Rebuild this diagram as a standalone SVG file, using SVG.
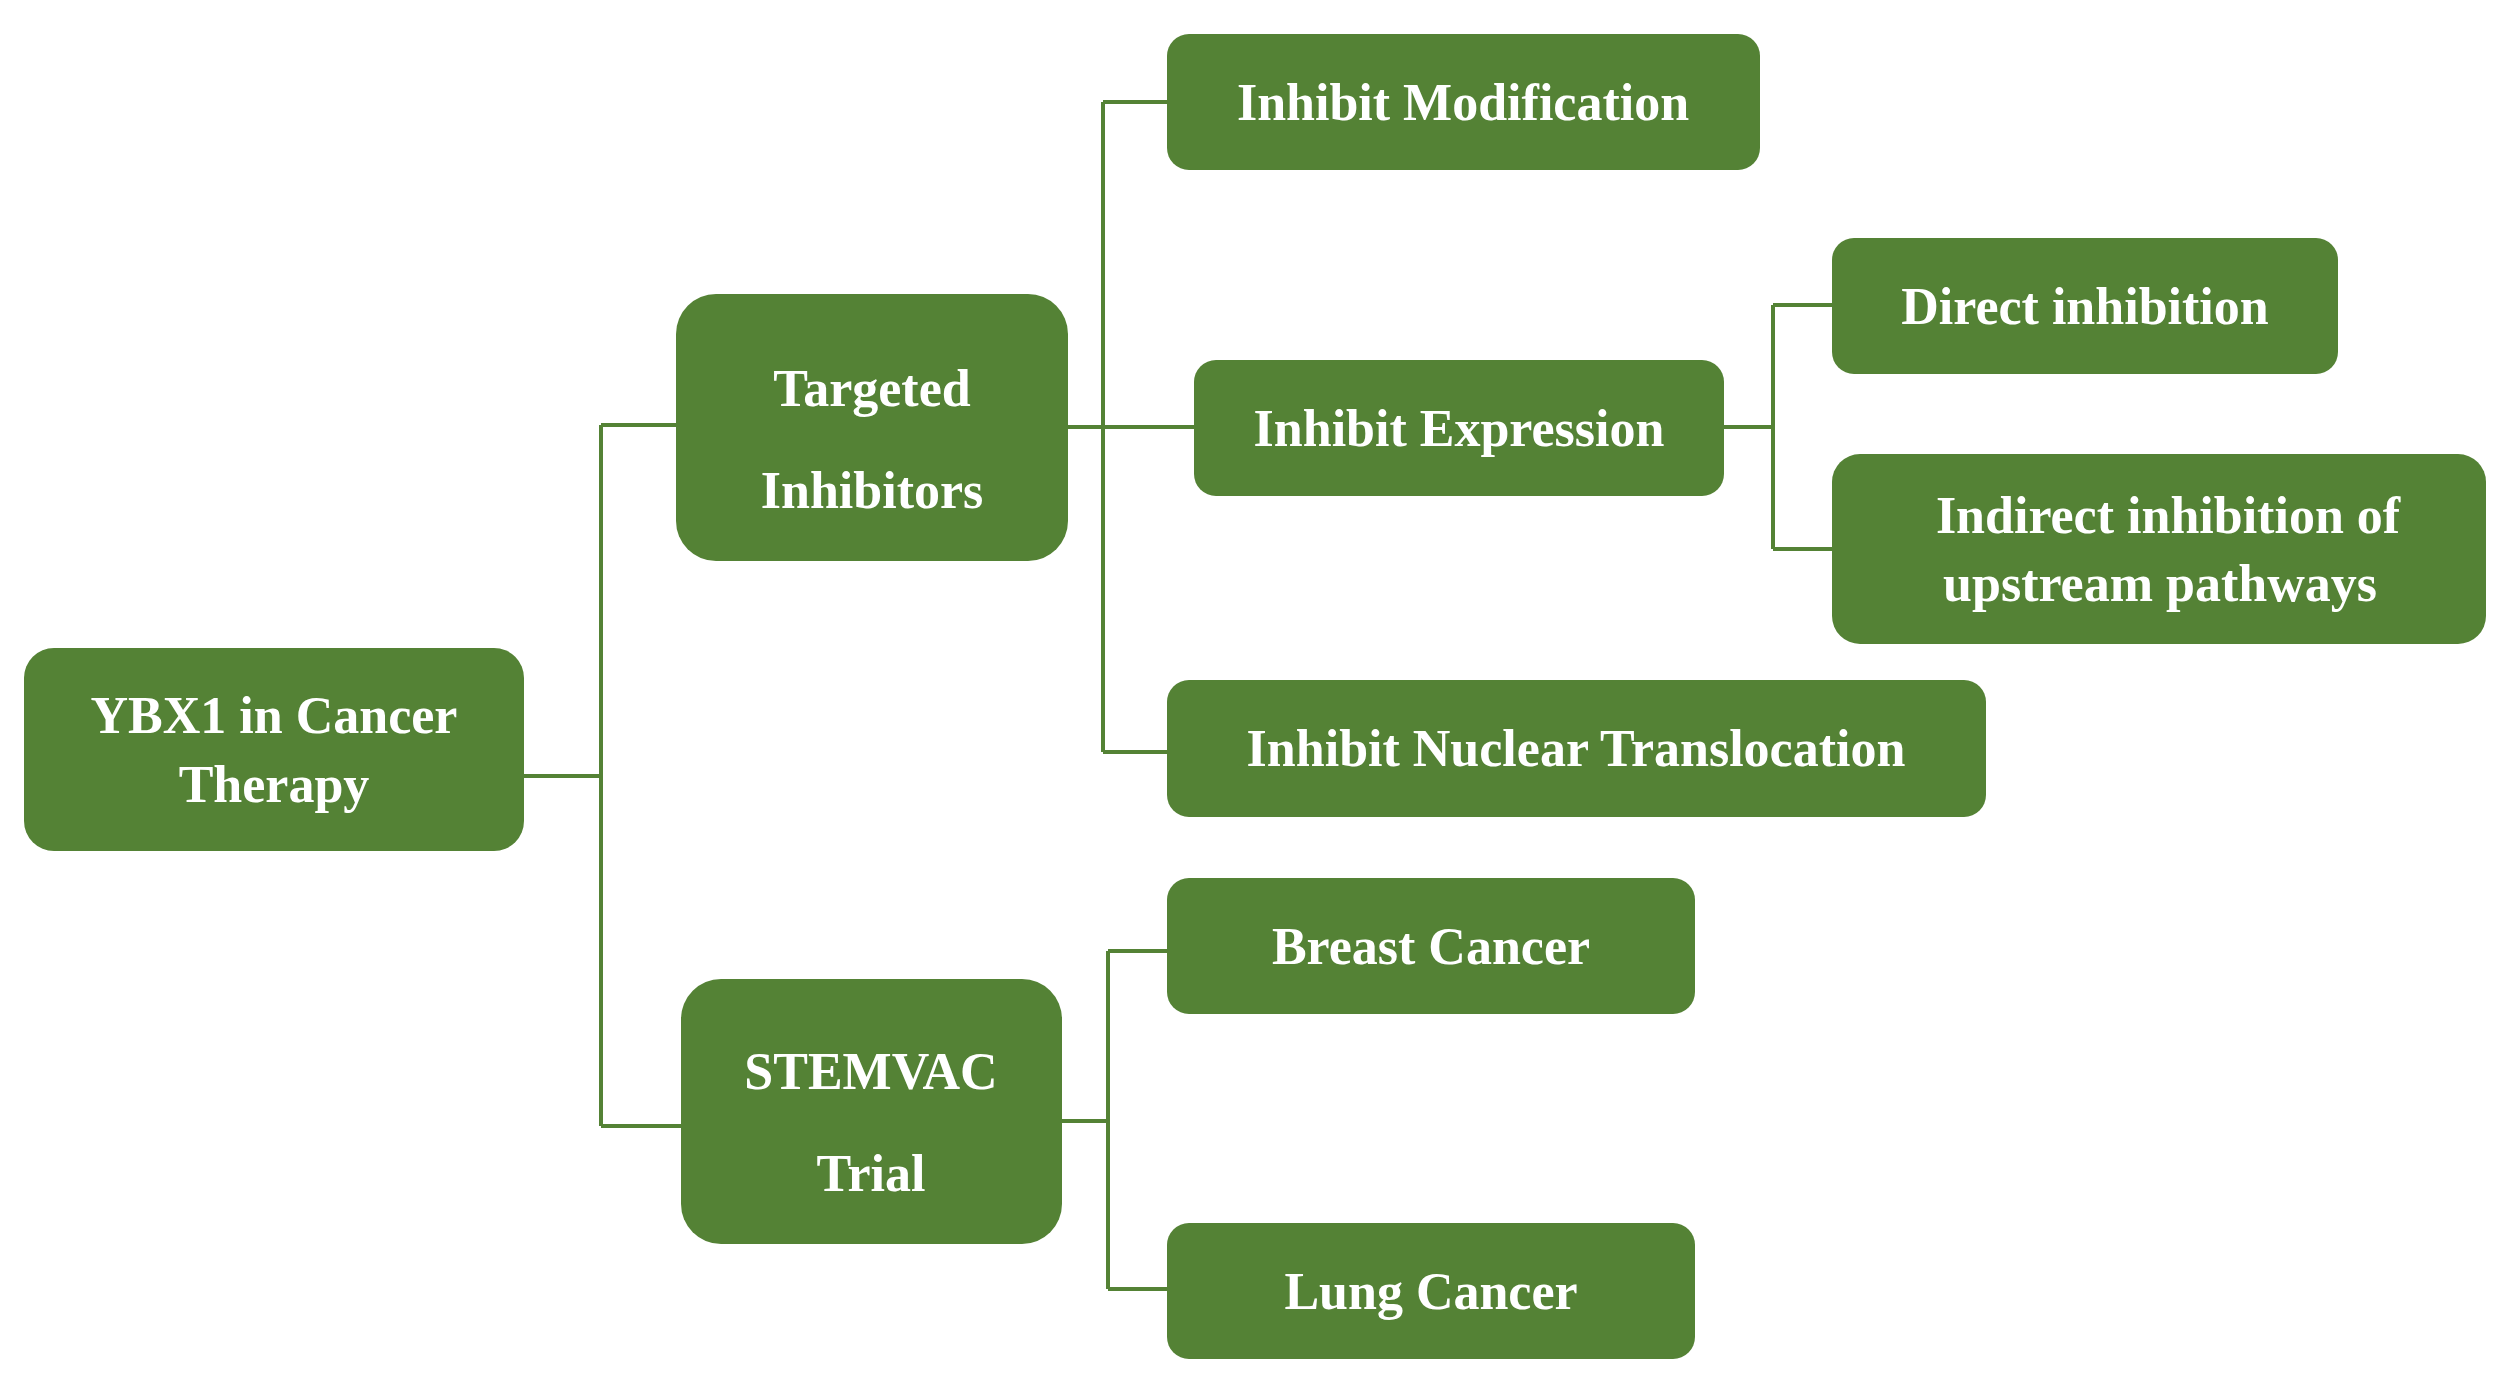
<svg xmlns="http://www.w3.org/2000/svg" width="2507" height="1391" viewBox="0 0 2507 1391">
<style>
.n{fill:#548235}
.t{fill:#fff;font-family:"Liberation Serif",serif;font-weight:bold;font-size:52px;text-anchor:middle}
.c{fill:none;stroke:#548235;stroke-width:4}
</style>
<rect width="2507" height="1391" fill="#fff"/>
<g id="connectors" class="c">
<path d="M524 776H601M601 425V1126M601 425H676M601 1126H681"/>
<path d="M1068 427H1194M1103 102V752M1103 102H1167M1103 752H1167"/>
<path d="M1724 427H1773M1773 305V549M1773 305H1832M1773 549H1832"/>
<path d="M1062 1121H1108M1108 951V1289M1108 951H1167M1108 1289H1167"/>
</g>
<g id="ybx1"><rect class="n" x="24" y="648" width="500" height="203" rx="30"/><text class="t" x="274" y="733">YBX1 in Cancer</text><text class="t" x="274" y="802">Therapy</text></g>
<g id="targeted"><rect class="n" x="676" y="294" width="392" height="267" rx="40"/><text class="t" x="872" y="406">Targeted</text><text class="t" x="872" y="508">Inhibitors</text></g>
<g id="stemvac"><rect class="n" x="681" y="979" width="381" height="265" rx="40"/><text class="t" x="871" y="1089">STEMVAC</text><text class="t" x="871" y="1191">Trial</text></g>
<g id="mod"><rect class="n" x="1167" y="34" width="593" height="136" rx="22"/><text class="t" x="1463" y="120">Inhibit Modification</text></g>
<g id="expr"><rect class="n" x="1194" y="360" width="530" height="136" rx="22"/><text class="t" x="1459" y="446">Inhibit Expression</text></g>
<g id="direct"><rect class="n" x="1832" y="238" width="506" height="136" rx="22"/><text class="t" x="2085" y="324">Direct inhibition</text></g>
<g id="indirect"><rect class="n" x="1832" y="454" width="654" height="190" rx="28"/><text class="t" x="2168" y="533">Indirect inhibition of</text><text class="t" x="2160" y="601">upstream pathways</text></g>
<g id="nuclear"><rect class="n" x="1167" y="680" width="819" height="137" rx="22"/><text class="t" x="1576" y="766">Inhibit Nuclear Translocation</text></g>
<g id="breast"><rect class="n" x="1167" y="878" width="528" height="136" rx="22"/><text class="t" x="1431" y="964">Breast Cancer</text></g>
<g id="lung"><rect class="n" x="1167" y="1223" width="528" height="136" rx="22"/><text class="t" x="1431" y="1309">Lung Cancer</text></g>
</svg>
